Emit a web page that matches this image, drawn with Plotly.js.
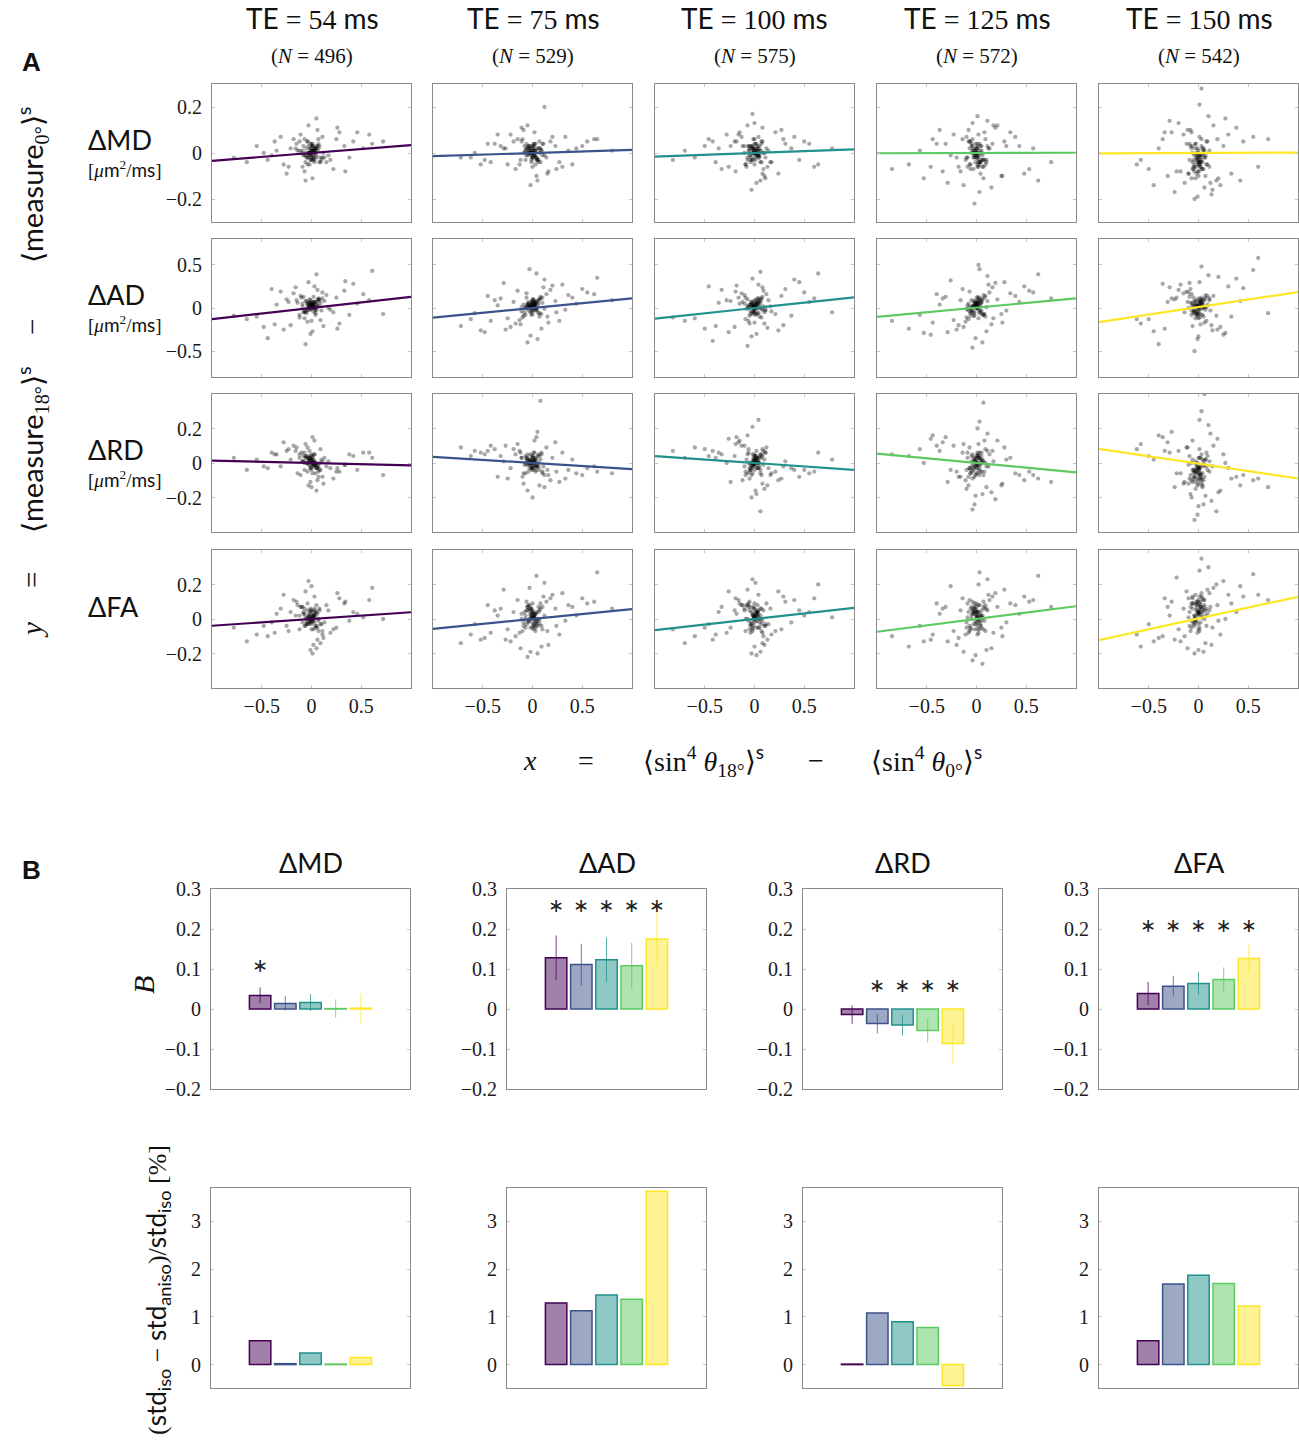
<!DOCTYPE html>
<html><head><meta charset="utf-8">
<script src="https://cdn.plot.ly/plotly-3.0.1.min.js"></script>
<style>body{margin:0;background:#fff}</style>
</head><body>
<div id="chart" style="width:1299px;height:1450px"></div>
<script>
// ---------- DATA ----------
const teValues = ['54', '75', '100', '125', '150'];
const nSubjects = [496, 529, 575, 572, 542];
const measures = ['MD', 'AD', 'RD', 'FA'];

// x = <sin^4 theta_18>^s - <sin^4 theta_0>^s  (shared by all measures of one TE)
const x54 = [0.02,-0.05,0.08,-0.12,0.15,-0.02,0.04,-0.09,0.11,0.00,-0.15,0.19,-0.21,0.06,-0.07,0.25,-0.28,0.13,-0.03,0.01,0.33,-0.35,0.09,-0.11,0.42,-0.44,0.22,-0.18,0.05,-0.06,0.52,-0.55,0.28,-0.25,0.61,-0.65,0.03,-0.01,0.17,-0.14,0.38,-0.31,0.07,-0.04,0.46,-0.40,0.12,-0.08,0.72,-0.78,0.26,-0.23,0.00,0.10,-0.16,0.34,-0.37,0.58,-0.48,0.02,0.01,-0.03,0.05,-0.06,0.03,-0.01,0.07,-0.08,0.00,0.02,-0.04,0.09,-0.10,0.04,-0.02,0.06,-0.05,0.01,0.11,-0.12,0.00,0.03,-0.07,0.08,-0.01,0.02,-0.03,0.05,-0.09,0.04,0.00,0.02,-0.02,0.04,-0.04,0.01,-0.01,0.03,-0.03,0.05,-0.05,0.00,0.02,-0.02,0.06,-0.06,0.01,-0.01,0.03,-0.03,0.00,0.04,-0.04,0.02,-0.02,0.07,-0.07,0.01,-0.01,0.00];
const x75 = [-0.01,0.06,-0.07,0.10,-0.13,0.03,-0.04,0.14,-0.10,0.01,0.18,-0.17,0.23,-0.22,0.08,-0.09,0.30,-0.27,0.12,-0.02,0.36,-0.38,0.16,-0.15,0.44,-0.48,0.20,-0.25,0.04,-0.05,0.55,-0.58,0.27,-0.32,0.65,-0.72,0.02,0.00,0.11,-0.12,0.40,-0.35,0.09,-0.06,0.50,-0.42,0.15,-0.19,0.80,-0.62,0.33,-0.29,0.05,0.07,-0.11,0.24,-0.45,0.62,-0.52,-0.03,-0.02,0.04,-0.05,0.01,0.06,-0.07,0.03,0.00,-0.09,0.08,-0.01,0.02,-0.04,0.10,-0.11,0.05,-0.03,0.07,0.00,-0.06,0.12,-0.02,0.03,-0.08,0.01,0.04,-0.05,0.09,-0.01,0.02,0.01,-0.02,0.03,0.00,-0.04,0.02,-0.01,0.05,-0.03,0.00,0.04,-0.05,0.01,-0.02,0.03,0.06,-0.06,0.00,0.02,-0.03,0.01,-0.01,0.04,-0.04,0.00,0.07,-0.02,0.02,-0.07,0.01];
const x100 = [0.03,-0.04,0.07,-0.09,0.12,-0.01,0.05,-0.12,0.09,0.00,-0.16,0.17,-0.20,0.08,-0.06,0.27,-0.26,0.14,-0.02,0.02,0.31,-0.36,0.10,-0.13,0.45,-0.42,0.21,-0.19,0.06,-0.07,0.50,-0.60,0.29,-0.24,0.64,-0.70,0.04,-0.03,0.16,-0.15,0.37,-0.33,0.08,-0.05,0.55,-0.46,0.13,-0.10,0.78,-0.82,0.24,-0.28,0.01,0.11,-0.18,0.40,-0.39,0.60,-0.50,0.00,0.00,0.03,-0.04,0.06,-0.02,0.01,-0.07,0.08,0.04,-0.05,0.02,-0.09,0.10,-0.01,0.05,-0.03,0.07,-0.06,0.00,0.11,-0.10,0.03,-0.02,0.04,-0.08,0.06,0.01,-0.04,0.09,-0.01,-0.01,0.01,0.03,-0.03,0.00,0.05,-0.02,0.02,-0.05,0.04,0.00,-0.04,0.06,-0.01,0.01,-0.06,0.03,0.00,-0.02,0.02,0.04,-0.03,0.01,-0.01,0.07,0.00,-0.07,0.02,-0.02,0.03];
const x125 = [0.00,0.05,-0.06,0.09,-0.11,0.02,-0.03,0.13,-0.08,0.04,0.16,-0.18,0.21,-0.20,0.07,-0.10,0.28,-0.29,0.11,-0.01,0.34,-0.34,0.15,-0.14,0.43,-0.46,0.19,-0.23,0.03,-0.04,0.53,-0.57,0.26,-0.31,0.62,-0.68,0.01,-0.02,0.12,-0.13,0.39,-0.37,0.10,-0.07,0.48,-0.44,0.17,-0.16,0.75,-0.85,0.30,-0.26,0.06,0.08,-0.09,0.25,-0.40,0.57,-0.53,0.02,0.02,-0.01,0.04,-0.05,0.07,-0.03,0.00,0.05,-0.08,0.09,-0.02,0.01,-0.06,0.03,-0.10,0.11,0.02,-0.04,0.06,-0.07,0.00,0.08,-0.01,0.03,-0.09,0.05,-0.03,0.01,0.10,-0.05,0.00,-0.01,0.02,-0.03,0.04,0.01,-0.02,0.03,-0.04,0.05,0.00,-0.05,0.02,-0.01,0.06,-0.03,0.01,-0.06,0.03,0.00,-0.02,0.04,0.01,-0.04,0.02,-0.07,0.07,0.00,-0.01,0.01];
const x150 = [-0.02,0.04,-0.05,0.08,-0.10,0.01,-0.03,0.11,-0.08,0.02,0.15,-0.14,0.19,-0.18,0.06,-0.07,0.25,-0.24,0.10,0.00,0.30,-0.31,0.13,-0.12,0.38,-0.40,0.18,-0.20,0.03,-0.04,0.45,-0.50,0.22,-0.27,0.55,-0.58,0.01,-0.01,0.09,-0.11,0.33,-0.29,0.07,-0.06,0.42,-0.36,0.14,-0.15,0.70,-0.62,0.27,-0.22,0.05,0.12,-0.09,0.20,-0.34,0.60,-0.45,-0.02,-0.01,0.02,-0.04,0.05,0.00,-0.06,0.03,0.07,-0.08,0.01,-0.02,0.09,-0.05,0.04,-0.10,0.06,0.00,-0.03,0.11,-0.07,0.02,-0.01,0.08,-0.09,0.03,-0.04,0.05,0.01,-0.06,0.00,0.01,0.00,-0.02,0.03,-0.01,0.04,-0.03,0.02,-0.04,0.00,0.05,-0.05,0.01,0.03,-0.02,0.06,-0.06,0.00,0.02,-0.01,-0.03,0.04,0.01,-0.04,0.07,0.00,-0.07,0.02,-0.02,0.01];

// y = <measure_18>^s - <measure_0>^s
const dMD54 = [0.01,-0.02,0.03,0.05,-0.04,0.00,0.02,-0.06,0.07,-0.01,0.04,-0.03,0.02,0.10,-0.08,0.06,-0.05,-0.02,0.12,-0.11,0.03,0.01,-0.04,0.08,0.05,-0.03,-0.07,0.06,0.15,-0.12,0.02,0.03,0.09,-0.09,0.04,-0.04,-0.03,0.04,-0.01,0.01,-0.02,0.07,0.06,-0.05,0.09,-0.01,0.00,0.03,0.05,-0.02,0.11,-0.06,0.00,-0.03,0.02,-0.08,0.05,0.08,0.00,0.01,0.01,-0.02,0.03,0.00,-0.04,0.02,0.04,-0.01,0.01,-0.03,0.05,-0.02,0.00,0.02,-0.05,0.03,-0.01,0.04,-0.02,0.01,-0.03,0.00,0.06,-0.04,0.02,-0.01,0.03,-0.02,0.01,0.00,0.00,0.01,-0.01,0.02,-0.02,0.03,-0.03,0.01,0.00,-0.01,0.02,0.04,-0.02,0.00,0.01,-0.04,0.03,-0.01,0.02,0.00,-0.03,0.01,0.05,-0.02,0.00,0.02,-0.01,0.03,0.01,-0.02];
const dMD75 = [0.00,0.02,-0.03,0.04,-0.05,0.01,0.03,-0.02,0.06,-0.01,0.05,-0.07,0.03,0.08,-0.04,0.10,-0.06,0.02,0.20,-0.14,0.01,0.04,-0.08,0.06,0.02,-0.03,0.07,-0.05,-0.10,0.12,0.05,0.00,-0.04,0.03,0.06,-0.02,0.09,-0.06,0.04,-0.03,-0.05,0.08,0.01,-0.01,0.03,-0.04,-0.09,0.05,0.01,-0.02,0.07,0.02,-0.12,0.00,0.11,-0.07,0.04,0.06,-0.05,0.02,0.00,0.02,-0.01,0.03,-0.03,0.01,0.04,-0.02,0.00,0.02,-0.04,0.01,0.03,-0.01,0.05,-0.03,0.00,0.02,-0.02,0.04,-0.01,0.01,-0.05,0.03,0.00,-0.02,0.02,0.01,-0.03,0.04,0.01,0.00,-0.02,0.02,0.00,-0.01,0.03,-0.03,0.01,0.02,-0.02,0.00,0.04,-0.01,0.01,-0.04,0.02,0.00,-0.01,0.03,0.00,0.01,-0.03,0.02,-0.02,0.05,0.00,-0.01,0.01,0.03];
const dMD100 = [0.01,-0.03,0.04,-0.05,0.02,0.06,-0.02,0.03,-0.07,0.00,0.08,-0.04,0.05,-0.09,0.03,0.10,-0.06,0.01,0.17,-0.13,0.04,0.02,-0.10,0.07,-0.03,0.05,0.09,-0.08,-0.12,0.12,0.05,-0.02,0.06,0.03,-0.05,0.01,0.07,-0.16,-0.04,0.09,0.02,-0.07,0.11,-0.01,0.04,0.06,-0.06,0.03,0.02,-0.03,-0.09,0.08,0.00,-0.11,0.05,0.07,-0.04,-0.06,0.03,0.13,0.01,-0.01,0.03,-0.04,0.00,0.02,-0.03,0.05,-0.02,0.01,0.04,-0.05,0.00,0.02,-0.01,0.03,-0.04,0.01,0.06,-0.02,0.00,0.03,-0.03,0.02,-0.06,0.01,0.04,-0.01,0.00,0.02,0.00,-0.01,0.02,-0.02,0.01,0.03,-0.03,0.00,0.02,-0.01,0.04,-0.04,0.01,0.00,-0.02,0.03,0.01,-0.05,0.02,0.00,-0.01,0.02,-0.03,0.01,0.05,0.00,-0.02,0.01,0.03,-0.01];
const dMD125 = [-0.01,0.03,-0.05,0.06,-0.03,0.08,-0.07,0.02,0.10,-0.09,0.04,-0.06,0.12,-0.02,-0.11,0.07,0.05,-0.13,0.14,-0.04,0.09,-0.08,-0.15,0.06,0.03,-0.06,0.11,0.08,-0.17,0.13,-0.07,0.01,-0.10,0.04,-0.12,-0.05,0.16,-0.22,0.02,-0.14,0.07,0.10,-0.03,0.05,-0.09,0.06,0.12,-0.08,-0.04,-0.07,0.03,-0.01,-0.06,0.09,-0.02,-0.10,0.04,0.02,-0.11,0.00,-0.02,0.01,-0.04,0.03,-0.06,0.00,0.02,-0.03,0.05,-0.05,-0.01,0.04,-0.07,0.01,-0.02,0.03,-0.04,0.06,-0.01,-0.05,0.02,-0.03,0.00,0.04,-0.06,0.01,-0.02,0.03,-0.04,0.00,-0.02,0.00,-0.03,0.01,-0.04,0.02,-0.01,-0.05,0.03,0.00,-0.02,0.04,-0.06,0.01,-0.03,0.02,-0.01,0.05,-0.04,0.00,-0.02,0.03,-0.05,0.01,-0.01,0.02,-0.03,0.00,0.04,-0.06];
const dMD150 = [-0.03,0.02,-0.06,0.05,-0.09,0.07,-0.11,0.01,0.10,-0.04,0.12,-0.13,0.06,-0.08,-0.15,0.09,0.03,-0.17,0.16,-0.02,0.08,-0.10,-0.18,0.04,0.11,0.02,-0.12,0.13,0.28,-0.20,0.05,-0.07,-0.14,0.09,0.07,-0.03,0.21,-0.19,-0.05,0.10,-0.09,0.14,-0.01,0.03,-0.12,0.06,-0.16,0.08,0.06,-0.05,0.15,-0.08,-0.07,-0.13,0.04,-0.11,0.09,-0.06,-0.14,-0.01,-0.04,-0.01,-0.06,0.02,-0.08,0.00,-0.03,-0.10,0.03,-0.05,-0.02,0.05,-0.07,-0.01,-0.09,0.01,-0.04,0.04,-0.06,-0.11,-0.02,0.02,-0.05,-0.03,0.06,-0.08,0.00,-0.04,-0.07,0.01,-0.03,-0.05,0.00,-0.07,-0.02,-0.04,0.02,-0.06,-0.01,-0.08,0.01,-0.03,-0.05,0.03,-0.09,-0.02,-0.04,0.00,-0.06,-0.03,0.04,-0.07,-0.01,-0.05,-0.02,-0.10,0.02,-0.04,-0.06,-0.01];

const dAD54 = [0.03,-0.06,0.10,-0.11,0.15,0.02,-0.08,0.05,0.18,-0.15,0.09,-0.02,-0.20,0.21,-0.12,0.12,-0.25,0.08,0.30,-0.27,0.20,0.04,-0.14,0.14,0.28,-0.35,-0.05,0.17,0.39,-0.42,0.16,-0.10,-0.18,0.10,0.43,-0.13,0.25,-0.30,0.00,0.06,-0.08,0.19,0.11,-0.16,0.05,0.22,-0.21,0.13,-0.07,-0.09,-0.24,0.07,0.01,-0.03,0.24,0.31,-0.19,0.09,-0.22,-0.04,0.03,0.06,-0.02,0.08,0.00,0.04,0.10,-0.05,0.02,0.07,-0.03,0.05,0.12,-0.06,0.01,0.09,-0.01,0.04,0.11,-0.08,0.03,0.06,-0.04,0.08,0.00,0.13,-0.02,0.05,0.02,0.07,0.04,0.02,0.06,0.00,0.05,0.03,-0.02,0.07,0.01,0.04,0.08,-0.01,0.03,0.06,0.02,-0.04,0.05,0.09,0.00,0.03,0.07,-0.03,0.04,0.01,0.10,0.02,-0.05,0.06,0.03,0.00];
const dAD75 = [0.02,0.05,-0.08,0.12,-0.14,0.06,-0.03,0.16,-0.11,0.00,0.21,-0.18,0.08,-0.22,0.13,-0.09,0.27,-0.25,0.33,-0.32,0.15,0.09,-0.17,0.20,0.05,-0.28,0.26,-0.12,0.40,-0.40,0.18,-0.06,-0.15,0.11,0.35,-0.21,0.04,-0.07,0.24,-0.19,0.12,0.03,-0.24,0.17,0.22,-0.15,-0.10,0.07,0.09,-0.13,-0.02,0.29,-0.36,0.10,0.01,-0.05,0.14,0.16,-0.26,0.45,0.02,-0.03,0.05,0.09,-0.06,0.01,0.07,-0.02,0.04,0.11,-0.08,0.03,0.00,0.06,-0.04,0.08,0.02,-0.10,0.05,0.12,-0.01,0.03,0.07,-0.05,0.10,0.00,0.04,-0.07,0.06,0.01,0.03,0.00,0.05,-0.02,0.07,0.02,-0.04,0.04,0.01,0.08,-0.01,0.03,0.06,-0.05,0.02,0.09,0.00,0.04,-0.03,0.05,0.01,0.07,-0.02,0.03,0.10,-0.06,0.02,0.05,0.00,0.04];
const dAD100 = [0.04,-0.07,0.11,-0.13,0.16,0.01,-0.10,0.07,0.20,-0.17,0.12,-0.04,-0.22,0.24,-0.15,0.14,-0.28,0.09,0.34,-0.30,0.22,0.06,-0.18,0.17,0.30,-0.38,-0.07,0.19,0.42,-0.44,0.18,-0.12,-0.20,0.08,0.40,-0.15,0.27,-0.33,0.02,0.05,-0.09,0.21,0.13,-0.18,0.07,0.25,-0.23,0.15,-0.05,-0.11,-0.26,0.09,0.00,-0.02,0.26,0.33,-0.21,0.11,-0.24,-0.06,0.01,0.05,-0.04,0.08,-0.07,0.03,0.10,-0.02,0.06,-0.09,0.02,0.12,-0.05,0.04,0.00,0.07,-0.11,0.03,0.09,-0.03,0.05,-0.06,0.01,0.11,-0.01,0.06,-0.08,0.04,0.02,-0.04,0.02,0.05,-0.01,0.07,0.00,0.03,-0.04,0.06,0.01,0.08,-0.02,0.04,0.10,-0.05,0.03,0.00,0.06,-0.03,0.02,0.09,-0.06,0.05,0.01,0.04,-0.01,0.07,0.02,-0.07,0.03,0.11];
const dAD125 = [0.01,0.06,-0.09,0.14,-0.16,0.08,-0.05,0.18,-0.13,0.02,0.24,-0.20,0.10,-0.25,0.15,-0.11,0.30,-0.28,0.37,-0.35,0.17,0.11,-0.19,0.22,0.07,-0.31,0.29,-0.14,0.45,-0.46,0.20,-0.08,-0.17,0.13,0.39,-0.24,0.06,-0.09,0.27,-0.22,0.14,0.04,-0.27,0.19,0.25,-0.17,-0.12,0.09,0.11,-0.15,-0.03,0.32,-0.40,0.12,0.03,-0.07,0.16,0.18,-0.29,0.50,0.00,0.06,-0.05,0.09,-0.08,0.03,0.11,-0.03,0.05,-0.10,0.02,0.13,-0.06,0.04,-0.01,0.08,-0.12,0.02,0.10,-0.04,0.06,-0.07,0.01,0.12,-0.02,0.07,-0.09,0.03,0.01,-0.05,0.01,0.05,-0.02,0.08,-0.04,0.03,0.06,-0.06,0.02,0.10,0.00,-0.03,0.07,0.04,-0.08,0.02,0.05,-0.01,0.09,0.00,-0.05,0.06,0.03,-0.02,0.11,0.01,-0.07,0.04,0.08,-0.01];
const dAD150 = [0.03,-0.08,0.12,-0.15,0.18,0.02,-0.12,0.09,0.22,-0.19,0.14,-0.05,-0.25,0.27,-0.17,0.16,-0.31,0.10,0.38,-0.33,0.25,0.07,-0.20,0.19,0.34,-0.42,-0.09,0.21,0.48,-0.50,0.23,-0.13,-0.22,0.11,0.44,-0.18,0.30,-0.36,0.04,0.07,-0.10,0.24,0.15,-0.21,0.08,0.28,-0.26,0.17,-0.06,-0.13,-0.29,0.12,0.01,-0.03,0.29,0.36,-0.24,0.58,-0.27,-0.07,0.02,0.07,-0.04,0.10,-0.08,0.04,0.12,-0.02,0.06,-0.11,0.03,0.14,-0.06,0.05,0.00,0.09,-0.12,0.03,0.11,-0.03,0.07,-0.07,0.01,0.13,-0.01,0.08,-0.10,0.04,0.02,-0.05,0.02,0.06,-0.02,0.09,-0.05,0.04,0.07,-0.07,0.03,0.11,0.00,-0.04,0.08,0.05,-0.09,0.01,0.06,-0.01,0.10,0.02,-0.06,0.07,0.03,-0.03,0.12,0.00,-0.08,0.05,0.09,-0.02];

const dRD54 = [0.00,0.03,-0.04,0.05,-0.02,0.07,-0.06,0.01,-0.08,0.04,0.09,-0.03,0.02,-0.10,0.06,-0.05,0.12,0.03,-0.13,0.15,-0.01,0.05,0.08,-0.07,0.04,-0.03,-0.09,0.10,-0.16,0.11,0.06,0.02,-0.05,0.07,0.03,-0.04,0.13,-0.11,0.01,-0.06,0.05,-0.02,-0.08,0.09,-0.04,0.06,-0.12,0.04,-0.07,0.03,-0.03,0.08,-0.14,0.02,0.07,-0.01,0.05,0.06,-0.02,0.00,0.00,0.02,-0.03,0.04,-0.01,0.03,-0.05,0.01,0.05,-0.02,0.00,-0.04,0.06,-0.01,0.02,-0.03,0.04,-0.06,0.01,0.03,-0.02,0.05,-0.04,0.00,0.02,-0.01,0.03,-0.03,0.01,0.00,0.01,-0.01,0.02,-0.02,0.00,0.03,-0.03,0.01,0.04,-0.01,0.00,-0.04,0.02,0.01,-0.02,0.03,0.00,-0.03,0.05,-0.01,0.02,0.00,-0.05,0.01,0.03,-0.02,0.00,0.04,-0.01,0.01];
const dRD75 = [0.01,-0.02,0.04,-0.06,0.07,0.03,-0.05,0.09,-0.08,0.00,-0.10,0.05,0.12,-0.03,0.36,-0.12,0.06,0.10,-0.14,0.02,-0.04,0.08,-0.07,0.11,-0.06,0.05,0.03,-0.09,0.15,-0.16,-0.03,0.07,-0.11,0.04,-0.05,0.09,0.13,-0.20,-0.02,0.06,0.02,-0.08,0.05,-0.01,-0.07,0.10,-0.04,0.08,-0.06,0.04,-0.09,0.01,0.18,-0.13,0.03,-0.05,0.07,-0.02,0.06,-0.01,0.01,-0.02,0.03,-0.04,0.05,0.00,-0.01,0.04,-0.06,0.02,-0.03,0.06,0.01,-0.05,0.03,-0.02,0.00,0.04,-0.03,0.02,-0.07,0.05,0.00,-0.01,0.03,-0.04,0.02,0.06,-0.02,0.01,0.00,0.02,-0.02,0.03,-0.01,0.01,-0.04,0.04,0.00,-0.03,0.02,0.05,-0.02,0.01,-0.05,0.00,0.03,-0.01,0.02,-0.03,0.06,0.00,-0.02,0.01,0.04,-0.04,0.00,0.02,-0.06,0.01];
const dRD100 = [0.02,-0.04,0.05,-0.07,0.09,-0.01,0.03,-0.10,0.07,0.00,0.12,-0.06,0.04,-0.12,0.08,-0.09,0.14,-0.03,0.21,-0.18,0.01,0.06,-0.15,0.10,-0.08,0.07,-0.05,0.11,-0.28,0.16,-0.04,0.09,-0.02,-0.11,0.06,0.03,0.25,-0.20,-0.07,0.13,-0.03,0.05,0.08,-0.09,-0.06,0.04,-0.13,0.10,0.02,0.07,-0.10,0.00,-0.16,0.06,0.15,-0.04,0.03,-0.05,0.08,-0.02,0.00,0.03,-0.04,0.05,-0.02,0.02,-0.06,0.04,0.01,-0.03,0.07,-0.05,0.02,-0.01,0.04,-0.07,0.03,0.00,-0.04,0.06,-0.02,0.01,0.05,-0.03,0.02,-0.06,0.04,0.00,-0.01,0.03,-0.01,0.02,0.00,-0.03,0.04,-0.02,0.01,0.03,-0.05,0.00,0.05,-0.01,-0.04,0.02,0.00,0.06,-0.03,0.01,-0.06,0.03,0.00,-0.02,0.04,0.01,-0.07,0.02,0.05,-0.01,0.00,-0.03];
const dRD125 = [-0.01,0.04,-0.06,0.08,-0.10,0.11,-0.03,0.05,-0.13,0.02,0.07,-0.08,0.13,-0.05,0.35,-0.15,0.09,-0.11,0.17,-0.19,0.03,0.12,-0.17,0.06,-0.07,0.14,-0.21,0.10,0.24,-0.27,-0.05,0.08,-0.12,0.15,-0.09,0.04,0.20,-0.24,-0.02,0.11,-0.06,0.07,-0.14,0.09,-0.10,0.16,0.01,-0.08,-0.11,0.05,0.02,-0.04,-0.18,0.13,0.06,-0.13,0.10,-0.07,0.00,0.03,-0.01,0.02,-0.05,0.04,-0.07,0.01,-0.03,0.06,-0.08,0.00,-0.02,0.05,-0.06,0.03,-0.04,0.07,-0.01,-0.09,0.02,-0.03,0.04,-0.05,0.01,-0.07,0.03,0.00,-0.04,0.06,-0.02,0.01,-0.02,0.01,-0.04,0.03,-0.01,-0.06,0.02,-0.03,0.05,-0.05,0.00,-0.02,0.04,-0.07,0.01,-0.01,0.03,-0.04,0.06,-0.02,-0.08,0.02,0.00,-0.05,0.04,-0.03,0.01,-0.06,0.03,0.00];
const dRD150 = [-0.05,0.02,-0.09,0.06,-0.12,0.08,-0.15,0.01,-0.18,0.03,0.10,-0.11,0.14,-0.06,0.40,-0.20,0.05,-0.14,0.22,-0.25,-0.03,0.12,-0.22,0.09,-0.08,0.16,-0.28,0.07,0.30,-0.33,-0.07,0.04,-0.16,0.18,-0.10,0.11,0.25,-0.30,-0.04,0.09,-0.09,0.06,-0.19,0.13,-0.13,0.15,-0.02,-0.12,-0.14,0.08,0.00,-0.06,-0.24,0.17,0.04,-0.17,0.07,-0.09,0.02,-0.01,-0.05,-0.02,-0.08,0.01,-0.10,-0.04,-0.12,0.02,-0.07,-0.03,-0.09,0.04,-0.06,-0.14,-0.01,-0.08,0.03,-0.11,-0.05,0.00,-0.07,-0.13,-0.02,-0.09,0.05,-0.04,-0.10,-0.06,0.02,-0.03,-0.04,-0.07,-0.01,-0.10,-0.03,-0.06,0.01,-0.08,-0.05,-0.12,-0.02,-0.04,0.03,-0.09,-0.06,-0.01,-0.11,-0.03,-0.07,0.00,-0.05,-0.13,-0.02,-0.08,0.02,-0.04,-0.10,-0.06,-0.03,-0.09];

const dFA54 = [0.02,-0.03,0.05,-0.06,0.08,0.01,-0.04,0.07,-0.09,0.00,0.10,-0.08,0.04,-0.12,0.06,-0.05,0.14,-0.02,0.22,-0.20,0.09,0.03,-0.14,0.07,0.04,-0.10,-0.06,0.11,-0.17,0.16,0.01,-0.09,0.12,-0.04,0.18,-0.13,0.13,-0.18,0.05,0.08,-0.01,0.06,-0.07,0.09,0.03,-0.02,-0.11,0.04,0.00,-0.05,0.15,-0.07,0.19,-0.03,0.02,0.10,-0.08,0.11,-0.04,-0.15,0.01,-0.02,0.04,-0.04,0.02,0.06,-0.01,0.03,-0.06,0.00,0.05,-0.03,0.07,-0.05,0.01,0.03,-0.02,0.04,-0.07,0.02,0.00,0.05,-0.04,0.06,-0.01,0.02,-0.03,0.08,-0.02,0.01,0.00,0.02,-0.01,0.03,-0.03,0.01,0.04,-0.02,0.02,-0.04,0.00,0.05,-0.01,0.03,-0.05,0.01,0.02,-0.02,0.06,0.00,-0.03,0.04,0.01,-0.06,0.02,0.00,0.03,-0.01,0.05,-0.02];
const dFA75 = [0.00,0.04,-0.05,0.07,-0.08,0.03,-0.02,0.10,-0.07,0.01,0.12,-0.10,0.06,-0.13,0.09,-0.04,0.15,-0.12,0.21,-0.19,0.08,0.05,-0.15,0.11,0.02,-0.11,0.14,-0.06,0.25,-0.22,0.09,-0.03,-0.09,0.06,0.27,-0.14,0.03,-0.05,0.13,-0.17,0.07,0.02,-0.16,0.10,0.12,-0.08,-0.07,0.04,0.06,-0.09,-0.01,0.17,-0.20,0.05,0.00,-0.04,0.08,0.10,-0.12,0.18,0.02,-0.01,0.05,-0.03,0.07,0.00,-0.05,0.04,-0.02,0.06,0.01,-0.04,0.08,-0.06,0.03,0.00,0.05,-0.01,0.09,-0.03,0.02,0.06,-0.07,0.04,0.01,-0.02,0.07,-0.04,0.03,0.00,0.01,0.03,-0.02,0.05,-0.01,0.02,0.06,-0.04,0.00,0.04,-0.03,0.07,0.01,-0.05,0.03,0.00,0.05,-0.02,0.02,0.08,-0.06,0.01,0.04,-0.01,0.03,-0.03,0.06,0.00,0.02,-0.04];
const dFA100 = [0.02,-0.04,0.06,-0.07,0.09,0.00,-0.05,0.08,-0.10,0.01,0.11,-0.09,0.05,-0.14,0.07,-0.06,0.16,-0.03,0.23,-0.21,0.10,0.04,-0.15,0.08,0.05,-0.12,-0.07,0.12,-0.19,0.17,0.02,-0.10,0.13,-0.05,0.20,-0.14,0.14,-0.20,0.06,0.09,-0.02,0.07,-0.08,0.10,0.04,-0.03,-0.12,0.05,0.01,-0.06,0.16,-0.08,0.21,-0.04,0.03,0.11,-0.09,0.12,-0.05,-0.16,0.01,0.04,-0.03,0.06,-0.05,0.02,0.08,-0.01,0.03,-0.06,0.05,0.00,-0.04,0.07,-0.02,0.04,-0.07,0.09,0.01,-0.03,0.06,-0.01,0.02,-0.05,0.08,0.00,0.03,-0.08,0.05,0.02,0.02,-0.01,0.04,-0.03,0.06,0.00,0.03,-0.05,0.05,0.01,-0.02,0.07,0.02,-0.04,0.04,-0.01,0.08,0.00,-0.06,0.03,0.05,-0.02,0.01,0.06,-0.03,0.09,0.00,0.02,-0.07,0.04];
const dFA125 = [0.01,0.05,-0.06,0.08,-0.09,0.04,-0.03,0.11,-0.08,0.02,0.13,-0.11,0.07,-0.15,0.10,-0.05,0.17,-0.13,0.23,-0.21,0.09,0.06,-0.17,0.12,0.03,-0.12,0.15,-0.07,0.27,-0.24,0.10,-0.04,-0.10,0.07,0.25,-0.16,0.04,-0.06,0.14,-0.19,0.08,0.03,-0.18,0.11,0.13,-0.09,-0.08,0.05,0.07,-0.10,-0.02,0.19,-0.26,0.06,0.01,-0.05,0.09,0.11,-0.13,0.20,0.02,0.05,-0.03,0.07,-0.06,0.03,0.09,-0.01,0.04,-0.07,0.06,0.00,-0.05,0.08,-0.02,0.05,-0.08,0.10,0.01,-0.04,0.07,-0.01,0.03,-0.06,0.09,0.01,0.04,-0.09,0.06,0.02,0.02,0.04,-0.02,0.06,-0.04,0.01,0.07,-0.01,0.03,-0.05,0.05,0.00,0.08,-0.03,0.02,0.04,-0.06,0.06,0.01,-0.02,0.09,0.03,-0.04,0.05,0.00,-0.07,0.07,0.02,-0.01,0.04];
const dFA150 = [0.05,0.01,0.09,-0.04,0.12,0.03,-0.02,0.15,-0.07,0.06,0.18,-0.10,0.08,-0.13,0.11,-0.05,0.22,-0.12,0.30,-0.18,0.14,0.07,-0.15,0.16,0.04,-0.11,0.20,-0.06,0.35,-0.20,0.13,-0.03,-0.09,0.10,0.26,-0.16,0.28,-0.08,0.17,-0.17,0.09,0.02,-0.14,0.13,0.19,-0.10,-0.05,0.06,0.11,-0.09,0.00,0.24,-0.19,0.07,0.04,-0.01,0.12,0.14,-0.13,0.10,0.04,0.08,0.00,0.11,-0.03,0.06,0.13,0.02,0.07,-0.05,0.09,0.03,-0.02,0.12,0.01,0.08,-0.06,0.14,0.05,-0.01,0.10,0.03,0.06,-0.04,0.15,0.02,0.07,-0.07,0.09,0.04,0.05,0.03,0.08,0.01,0.10,0.04,-0.01,0.07,0.02,0.11,0.05,-0.03,0.09,0.03,0.06,0.00,0.12,0.04,-0.02,0.08,0.01,0.06,0.13,-0.04,0.05,0.02,0.09,0.07,-0.01,0.04];

// regression slope B per TE (panel B, top row), its error, intercepts of fitted lines
const slopeMD = [0.034, 0.014, 0.016, 0.001, 0.002];
const slopeAD = [0.128, 0.111, 0.123, 0.108, 0.175];
const slopeRD = [-0.014, -0.036, -0.040, -0.054, -0.086];
const slopeFA = [0.039, 0.057, 0.064, 0.074, 0.126];
const errMD = [0.020, 0.018, 0.021, 0.023, 0.037];
const errAD = [0.056, 0.052, 0.056, 0.058, 0.068];
const errRD = [0.023, 0.025, 0.026, 0.030, 0.050];
const errFA = [0.029, 0.026, 0.028, 0.030, 0.036];
const interceptMD = [0, 0, 0, 0, 0];
const interceptAD = [0, 0, 0, 0.004, 0.01];
const interceptRD = [0, 0, 0, 0, -0.004];
const interceptFA = [0, 0, 0, 0, 0.003];
// significance flags
const sigMD = [1, 0, 0, 0, 0];
const sigAD = [1, 1, 1, 1, 1];
const sigRD = [0, 1, 1, 1, 1];
const sigFA = [1, 1, 1, 1, 1];
// (std_iso - std_aniso)/std_iso [%]
const pctMD = [0.50, 0.02, 0.245, 0.01, 0.15];
const pctAD = [1.29, 1.13, 1.46, 1.37, 3.63];
const pctRD = [0.01, 1.08, 0.90, 0.78, -0.44];
const pctFA = [0.50, 1.69, 1.87, 1.70, 1.23];

// ---------- BUILD ----------
const xByTE = [x54, x75, x100, x125, x150];
const yByMeasure = {
  MD: [dMD54, dMD75, dMD100, dMD125, dMD150],
  AD: [dAD54, dAD75, dAD100, dAD125, dAD150],
  RD: [dRD54, dRD75, dRD100, dRD125, dRD150],
  FA: [dFA54, dFA75, dFA100, dFA125, dFA150]
};
const slopes = {MD: slopeMD, AD: slopeAD, RD: slopeRD, FA: slopeFA};
const errs = {MD: errMD, AD: errAD, RD: errRD, FA: errFA};
const inters = {MD: interceptMD, AD: interceptAD, RD: interceptRD, FA: interceptFA};
const sigs = {MD: sigMD, AD: sigAD, RD: sigRD, FA: sigFA};
const pcts = {MD: pctMD, AD: pctAD, RD: pctRD, FA: pctFA};

const W = 1299, H = 1450;
const PX = v => v / W, PY = v => 1 - v / H;
const viridis = ['#440154', '#3b528b', '#21918c', '#5ec962', '#fde725'];
const rgba = (h, a) => { const n = parseInt(h.slice(1), 16); return `rgba(${n >> 16},${(n >> 8) & 255},${n & 255},${a})`; };
const SERIF = 'Liberation Serif', SANS = 'Lato';
const sans = (t, sz) => `<span style="font-family:${SANS};font-size:${sz}px">${t}</span>`;

const common = {
  showline: true, linecolor: '#8a8a8a', linewidth: 1, mirror: 'allticks',
  ticks: 'inside', ticklen: 3, tickwidth: 1, tickcolor: '#c8c8c8',
  showgrid: false, zeroline: false, fixedrange: true,
  tickfont: {family: SERIF, size: 20, color: '#1a1a1a'}
};

const traces = [];
const layout = {
  width: W, height: H, margin: {l: 0, r: 0, t: 0, b: 0},
  paper_bgcolor: '#fff', plot_bgcolor: '#fff', showlegend: false, barmode: 'overlay',
  font: {family: SERIF, color: '#111'}, annotations: []
};

// Panel A geometry
const colLeft = [212, 433, 655, 877, 1099];
const colW = 199;
const rowTop = [84, 239, 394, 550];
const rowH = 138;
const yRanges = [[-0.3, 0.3], [-0.8, 0.8], [-0.4, 0.4], [-0.4, 0.4]];
const yTicks = [[-0.2, 0, 0.2], [-0.5, 0, 0.5], [-0.2, 0, 0.2], [-0.2, 0, 0.2]];

measures.forEach((m, r) => {
  teValues.forEach((te, c) => {
    const k = r * 5 + c + 1, s = k === 1 ? '' : String(k);
    const xs = xByTE[c], ys = yByMeasure[m][c];
    traces.push({type: 'scatter', mode: 'markers', x: xs, y: ys, xaxis: 'x' + s, yaxis: 'y' + s,
      marker: {size: 4.3, color: 'rgba(0,0,0,0.34)'}, hoverinfo: 'skip'});
    const b = slopes[m][c], a = inters[m][c];
    const lx = [-1, 1];
    traces.push({type: 'scatter', mode: 'lines', x: lx, y: lx.map(v => a + b * v), xaxis: 'x' + s, yaxis: 'y' + s,
      line: {color: viridis[c], width: 2.2}, hoverinfo: 'skip'});
    layout['xaxis' + s] = Object.assign({}, common, {
      domain: [PX(colLeft[c]), PX(colLeft[c] + colW)], anchor: 'y' + s, range: [-1, 1],
      tickvals: [-0.5, 0, 0.5], showticklabels: r === 3
    });
    layout['yaxis' + s] = Object.assign({}, common, {
      domain: [PY(rowTop[r] + rowH), PY(rowTop[r])], anchor: 'x' + s, range: yRanges[r],
      tickvals: yTicks[r], showticklabels: c === 0, ticklabelstandoff: 5
    });
  });
});

// Panel B geometry
const bLeft = [211, 507, 803, 1099];
const bW = 199;
const bTop = [889, 1188];
const bH = 200;
const starLevel = {MD: 0.105, AD: 0.255, RD: 0.055, FA: 0.205};
const idx = [0, 1, 2, 3, 4];

measures.forEach((m, c) => {
  let k = 21 + c, s = String(k);
  idx.forEach(i => {
    traces.push({type: 'bar', x: [i], y: [slopes[m][i]], width: 0.85, xaxis: 'x' + s, yaxis: 'y' + s,
      marker: {color: rgba(viridis[i], 0.5), line: {color: viridis[i], width: 1.5}},
      error_y: {type: 'data', array: [errs[m][i]], color: rgba(viridis[i], 0.75), thickness: 1, width: 0},
      hoverinfo: 'skip'});
  });
  const sx = idx.filter(i => sigs[m][i]);
  traces.push({type: 'scatter', mode: 'text', x: sx, y: sx.map(() => starLevel[m]), text: sx.map(() => '∗'),
    textfont: {family: 'DejaVu Sans', size: 19, color: '#222'}, textposition: 'middle center',
    xaxis: 'x' + s, yaxis: 'y' + s, hoverinfo: 'skip'});
  layout['xaxis' + s] = Object.assign({}, common, {domain: [PX(bLeft[c]), PX(bLeft[c] + bW)], anchor: 'y' + s,
    range: [-1.95, 5.95], ticks: '', mirror: true, showticklabels: false});
  layout['yaxis' + s] = Object.assign({}, common, {domain: [PY(bTop[0] + bH), PY(bTop[0])], anchor: 'x' + s,
    range: [-0.2, 0.3], tickvals: [-0.2, -0.1, 0, 0.1, 0.2, 0.3], ticktext: ['−0.2', '−0.1', '0', '0.1', '0.2', '0.3'],
    ticklabelstandoff: 5});
  k = 25 + c; s = String(k);
  traces.push({type: 'bar', x: idx, y: pcts[m], width: 0.85, xaxis: 'x' + s, yaxis: 'y' + s,
    marker: {color: viridis.map(v => rgba(v, 0.5)), line: {color: viridis, width: 1.5}}, hoverinfo: 'skip'});
  layout['xaxis' + s] = Object.assign({}, common, {domain: [PX(bLeft[c]), PX(bLeft[c] + bW)], anchor: 'y' + s,
    range: [-1.95, 5.95], ticks: '', mirror: true, showticklabels: false});
  layout['yaxis' + s] = Object.assign({}, common, {domain: [PY(bTop[1] + bH), PY(bTop[1])], anchor: 'x' + s,
    range: [-0.49, 3.70], tickvals: [0, 1, 2, 3], ticklabelstandoff: 5});
});

// ---------- TEXT ----------
const ann = (text, x, y, size, opts) => layout.annotations.push(Object.assign({
  text, x: PX(x), y: PY(y), xref: 'paper', yref: 'paper', showarrow: false,
  xanchor: 'center', yanchor: 'middle', font: {family: SERIF, size, color: '#111'}
}, opts || {}));

ann('<b>A</b>', 32, 62, 26, {font: {family: 'Liberation Sans', size: 26, color: '#111'}});
ann('<b>B</b>', 32, 870, 26, {font: {family: 'Liberation Sans', size: 26, color: '#111'}});

teValues.forEach((te, c) => {
  const cx = colLeft[c] + 100;
  ann(`${sans('TE', 28)} = ${te} ${sans('ms', 28)}`, cx, 18, 28);
  ann(`(<i>N</i> = ${nSubjects[c]})`, cx, 56, 21);
});

const unit = `[<i>μ</i>${sans('m', 19)}<sup>2</sup>/${sans('ms', 19)}]`;
measures.forEach((m, r) => {
  ann('Δ' + m, 86, rowTop[r] + 56, 27, {xanchor: 'left', font: {family: SANS, size: 27, color: '#111'}});
  if (m !== 'FA') ann(unit, 86, rowTop[r] + 85, 19, {xanchor: 'left'});
});

const rot = {textangle: -90};
ann('<i>y</i>', 32, 630, 29, rot);
ann('=', 32, 580, 29, rot);
ann(`⟨${sans('measure', 29)}<sub>18°</sub>⟩<sup>${sans('s', 20)}</sup>`, 32, 450, 29, rot);
ann('−', 32, 327, 29, rot);
ann(`⟨${sans('measure', 29)}<sub>0°</sub>⟩<sup>${sans('s', 20)}</sup>`, 32, 185, 29, rot);

ann('<i>x</i>', 530, 760, 28);
ann('=', 586, 760, 28);
ann(`⟨sin<sup>4</sup> <i>θ</i><sub>18°</sub>⟩<sup>${sans('s', 19)}</sup>`, 703, 760, 28);
ann('−', 816, 760, 28);
ann(`⟨sin<sup>4</sup> <i>θ</i><sub>0°</sub>⟩<sup>${sans('s', 19)}</sup>`, 926, 760, 28);

measures.forEach((m, c) => ann('Δ' + m, bLeft[c] + 100, 862, 27, {font: {family: SANS, size: 27, color: '#111'}}));
ann('<i>B</i>', 143, 985, 30, rot);
ann(`(${sans('std<sub>iso</sub>', 26)} − ${sans('std<sub>aniso</sub>', 26)})/${sans('std<sub>iso</sub>', 26)} [%]`, 157, 1290, 26, rot);

Plotly.newPlot('chart', traces, layout, {staticPlot: true, displayModeBar: false});
</script>
</body></html>
